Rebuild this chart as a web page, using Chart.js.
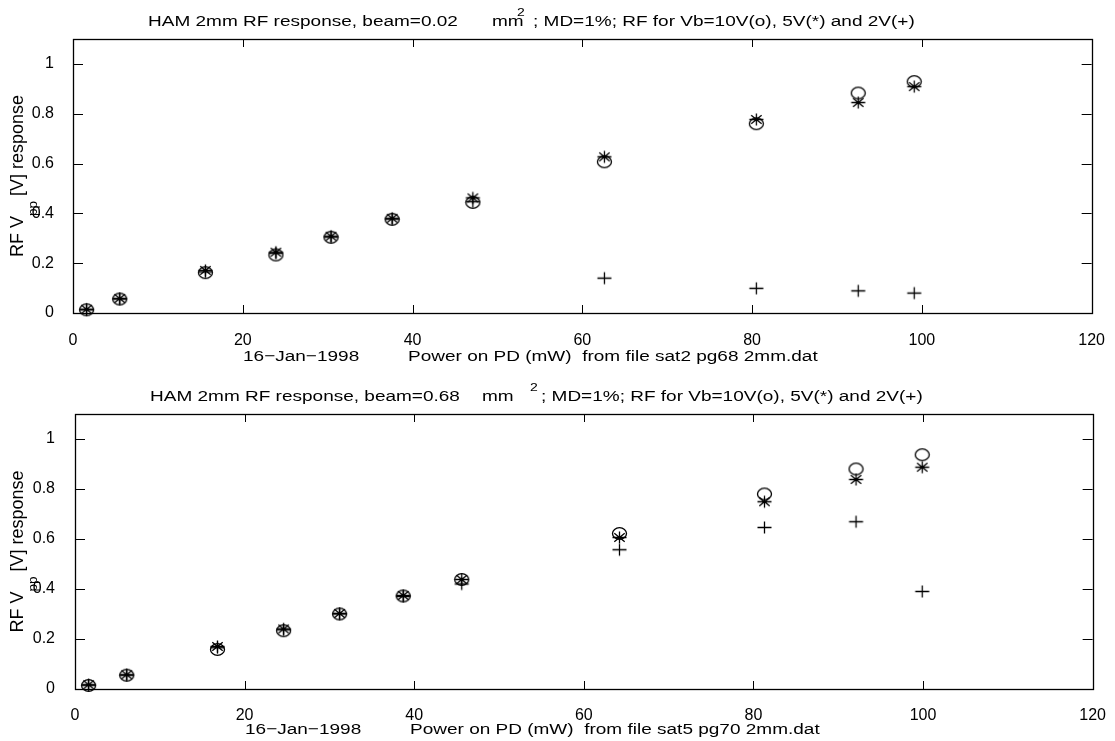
<!DOCTYPE html>
<html lang="en">
<head>
  <meta charset="UTF-8" />
  <script src="https://cdn.jsdelivr.net/npm/chart.js"></script>
  <title>HAM 2mm RF response</title>
  <style>
    html, body { margin: 0; padding: 0; background: #fff; }
    .panel { position: absolute; left: 0; width: 1115px; }
    #panelTop { top: 0; height: 370px; }
    #panelBottom { top: 370px; height: 371px; }
  </style>
</head>
<body>
  <div class="panel" id="panelTop"><canvas id="chartTop" width="1115" height="370"></canvas></div>
  <div class="panel" id="panelBottom"><canvas id="chartBottom" width="1115" height="371"></canvas></div>

  <script>
    // data
    const xTicks = [0, 20, 40, 60, 80, 100, 120];
    const yTicks = [0, 0.2, 0.4, 0.6, 0.8, 1];
    const yTickLabels = ['0', '0.2', '0.4', '0.6', '0.8', '1'];

    // beam = 0.02 mm^2, file sat2 pg68
    const topPower = [1.6, 5.5, 15.6, 23.9, 30.4, 37.6, 47.1, 62.6, 80.5, 92.5, 99.1];
    const top10V = [0.013, 0.056, 0.162, 0.233, 0.304, 0.376, 0.444, 0.607, 0.760, 0.883, 0.929];
    const top5V = [0.015, 0.058, 0.171, 0.244, 0.308, 0.380, 0.462, 0.627, 0.777, 0.845, 0.909];
    const top2V = [0.013, 0.056, 0.165, 0.240, 0.305, 0.377, 0.447, 0.140, 0.099, 0.089, 0.080];

    // beam = 0.68 mm^2, file sat5 pg70
    const bottomPower = [1.6, 6.1, 16.8, 24.6, 31.2, 38.7, 45.6, 64.2, 81.3, 92.1, 99.9];
    const bottom10V = [0.014, 0.055, 0.158, 0.233, 0.300, 0.372, 0.438, 0.622, 0.780, 0.880, 0.937];
    const bottom5V = [0.017, 0.057, 0.170, 0.240, 0.302, 0.374, 0.438, 0.606, 0.749, 0.838, 0.887];
    const bottom2V = [0.015, 0.055, 0.165, 0.237, 0.300, 0.370, 0.420, 0.557, 0.646, 0.669, 0.390];

    const FONT = "'Liberation Sans', Arial, Helvetica, sans-serif";

    // markers: o, * and +  (slightly wider than tall, like the original print)
    function makeMarker(kind) {
      const c = document.createElement('canvas');
      c.width = 17;
      c.height = 15;
      const g = c.getContext('2d');
      const cx = 8.5, cy = 7.5;
      g.strokeStyle = '#000';
      g.lineWidth = 1.3;
      g.beginPath();
      if (kind === 'circle') {
        g.ellipse(cx, cy, 7, 5.8, 0, 0, Math.PI * 2);
      } else {
        g.moveTo(cx - 7, cy); g.lineTo(cx + 7, cy);
        g.moveTo(cx, cy - 6); g.lineTo(cx, cy + 6);
        if (kind === 'star') {
          g.moveTo(cx - 5.2, cy - 4.3); g.lineTo(cx + 5.2, cy + 4.3);
          g.moveTo(cx - 5.2, cy + 4.3); g.lineTo(cx + 5.2, cy - 4.3);
        }
      }
      g.stroke();
      return c;
    }
    const circleMark = makeMarker('circle');
    const starMark = makeMarker('star');
    const plusMark = makeMarker('plus');

    function toPoints(xs, ys) {
      return xs.map((x, i) => ({ x: x, y: ys[i] }));
    }

    // draws text squeezed vertically a little, as in the original print
    function drawText(ctx, text, x, y, size, sy) {
      ctx.save();
      ctx.translate(x, y);
      ctx.scale(1, sy);
      ctx.font = size + 'px ' + FONT;
      ctx.fillStyle = '#000';
      ctx.textBaseline = 'alphabetic';
      ctx.textAlign = 'left';
      ctx.fillText(text, 0, 0);
      const w = ctx.measureText(text).width;
      ctx.restore();
      return w;
    }

    // box, inner tick marks, titles and axis labels
    const framePlugin = {
      id: 'frame',
      afterDraw(chart, args, opts) {
        const ctx = chart.ctx;
        const a = chart.chartArea;
        const xs = chart.scales.x;
        const ys = chart.scales.y;
        ctx.save();
        ctx.strokeStyle = '#000';
        ctx.lineWidth = 1;
        ctx.beginPath();
        xTicks.forEach(v => {
          const px = Math.round(xs.getPixelForValue(v)) + 0.5;
          ctx.moveTo(px, a.bottom); ctx.lineTo(px, a.bottom - 8);
          ctx.moveTo(px, a.top); ctx.lineTo(px, a.top + 8);
        });
        yTicks.forEach(v => {
          const py = Math.round(ys.getPixelForValue(v)) + 0.5;
          ctx.moveTo(a.left, py); ctx.lineTo(a.left + 10, py);
          ctx.moveTo(a.right, py); ctx.lineTo(a.right - 10, py);
        });
        ctx.stroke();
        ctx.lineWidth = 1.3;
        ctx.strokeRect(Math.round(a.left) + 0.5, Math.round(a.top) + 0.5,
          Math.round(a.right - a.left), Math.round(a.bottom - a.top));
        ctx.restore();

        // title with superscript
        const t = opts.title;
        drawText(ctx, t.head, t.x, t.y, 19, 0.8);
        drawText(ctx, 'mm', t.mmX, t.y, 19, 0.8);
        drawText(ctx, '2', t.supX, t.y - 10, 14, 0.8);
        drawText(ctx, t.tail, t.tailX, t.y, 19, 0.8);

        // x axis caption
        const c = opts.caption;
        drawText(ctx, '16\u2212Jan\u22121998', c.dateX, c.y, 19, 0.8);
        drawText(ctx, c.text, c.textX, c.y, 19, 0.8);

        // y axis caption: RF V_pp [V] response
        ctx.save();
        ctx.fillStyle = '#000';
        ctx.textBaseline = 'alphabetic';
        ctx.textAlign = 'left';
        ctx.font = '18px ' + FONT;
        const p1 = 'RF V', p3 = ' [V] response';
        const w1 = ctx.measureText(p1).width;
        const w3 = ctx.measureText(p3).width;
        ctx.font = '13.5px ' + FONT;
        const wSub = ctx.measureText('pp').width;
        const total = w1 + wSub + w3;
        const mid = (a.top + a.bottom) / 2;
        ctx.translate(23, mid + total / 2);
        ctx.rotate(-Math.PI / 2);
        ctx.font = '18px ' + FONT;
        ctx.fillText(p1, 0, 0);
        ctx.font = '13.5px ' + FONT;
        ctx.fillText('pp', w1, 14);
        ctx.font = '18px ' + FONT;
        ctx.fillText(p3, w1 + wSub, 0);
        ctx.restore();
      }
    };

    function makeChart(canvasId, power, v10, v5, v2, geo) {
      return new Chart(document.getElementById(canvasId), {
        type: 'scatter',
        data: {
          datasets: [
            { label: 'Vb=10V', data: toPoints(power, v10), pointStyle: circleMark },
            { label: 'Vb=5V', data: toPoints(power, v5), pointStyle: starMark },
            { label: 'Vb=2V', data: toPoints(power, v2), pointStyle: plusMark }
          ]
        },
        options: {
          responsive: false,
          animation: false,
          clip: false,
          layout: { padding: { left: 0, right: geo.right, top: geo.top, bottom: 0 } },
          plugins: {
            legend: { display: false },
            tooltip: { enabled: false },
            frame: { title: geo.title, caption: geo.caption }
          },
          scales: {
            x: {
              type: 'linear',
              min: 0,
              max: 120,
              grid: { display: false },
              border: { display: false },
              afterBuildTicks: (s) => { s.ticks = xTicks.map(v => ({ value: v })); },
              afterFit: (s) => { s.height = geo.xHeight; },
              ticks: { color: '#000', padding: geo.xPad, font: { family: FONT, size: 16 } }
            },
            y: {
              type: 'linear',
              min: 0,
              max: 1.1,
              grid: { display: false },
              border: { display: false },
              afterBuildTicks: (s) => { s.ticks = yTicks.map(v => ({ value: v })); },
              afterFit: (s) => { s.width = geo.yWidth; },
              ticks: {
                color: '#000',
                padding: geo.yPad,
                font: { family: FONT, size: 16 },
                callback: (v) => yTickLabels[yTicks.indexOf(v)]
              }
            }
          }
        },
        plugins: [framePlugin]
      });
    }

    makeChart('chartTop', topPower, top10V, top5V, top2V, {
      top: 39, right: 16, xHeight: 57, yWidth: 73, xPad: 10, yPad: 11,
      title: {
        head: 'HAM 2mm RF response, beam=0.02', x: 148, y: 26, mmX: 492, supX: 517, tailX: 533,
        tail: '; MD=1%; RF for Vb=10V(o), 5V(*) and 2V(+)'
      },
      caption: { dateX: 243, textX: 408, y: 361, text: 'Power on PD (mW)  from file sat2 pg68 2mm.dat' }
    });

    makeChart('chartBottom', bottomPower, bottom10V, bottom5V, bottom2V, {
      top: 44, right: 16, xHeight: 52, yWidth: 75, xPad: 9, yPad: 12,
      title: {
        head: 'HAM 2mm RF response, beam=0.68', x: 150, y: 31, mmX: 482, supX: 530, tailX: 541,
        tail: '; MD=1%; RF for Vb=10V(o), 5V(*) and 2V(+)'
      },
      caption: { dateX: 245, textX: 410, y: 364, text: 'Power on PD (mW)  from file sat5 pg70 2mm.dat' }
    });
  </script>
</body>
</html>
